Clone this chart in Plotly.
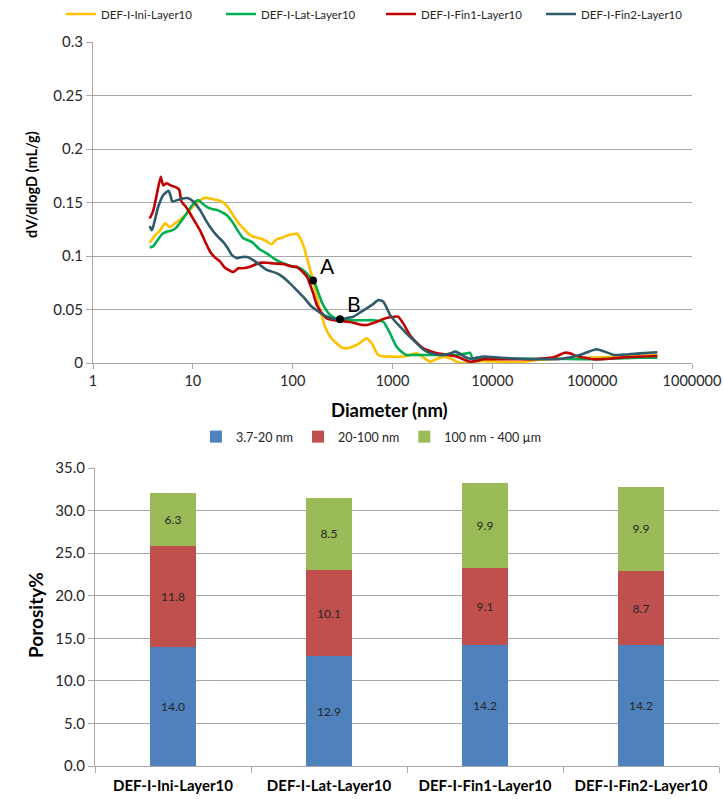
import math
import plotly.graph_objects as go

# ---------------- top chart data ----------------
ini_d = [3.7, 4.17, 4.7, 5.26, 5.9, 6.6, 7.4, 8.3, 9.36, 10.5, 11.8, 13.2, 14.5, 16, 18, 20.2, 22.7, 25.4,
         28.5, 32, 36, 40.4, 47, 54, 61.6, 69, 78, 87, 98, 110, 119, 130, 140, 150, 160, 181, 211, 240,
         275, 310, 348, 390, 438, 490, 550, 620, 680, 720, 830, 944, 1100, 1280, 1500, 1750, 2050, 2400,
         2800, 3250, 3800, 4400, 5200, 6000, 8000, 10000, 15000, 20000, 30000, 50000, 100000, 200000, 450000]
ini_v = [0.1125, 0.119, 0.124, 0.1305, 0.127, 0.1305, 0.1336, 0.138, 0.143, 0.148, 0.152, 0.1545, 0.154,
         0.153, 0.152, 0.150, 0.145, 0.138, 0.131, 0.126, 0.121, 0.118, 0.1165, 0.114, 0.111, 0.1156, 0.117,
         0.119, 0.120, 0.121, 0.1165, 0.108, 0.097, 0.087, 0.077, 0.0558, 0.034, 0.024, 0.0184, 0.0145,
         0.0137, 0.015, 0.0168, 0.020, 0.023, 0.0184, 0.011, 0.0075, 0.006, 0.006, 0.0058, 0.006, 0.0075,
         0.009, 0.005, 0.0012, 0.004, 0.006, 0.0044, 0.001, 0.0, 0.001, 0.002, 0.0015, 0.001, 0.001, 0.003,
         0.004, 0.005, 0.006, 0.0075]

lat_d = [3.7, 4.0, 4.3, 4.68, 5.0, 5.47, 6.2, 6.9, 7.7, 8.7, 9.6, 10.5, 11.4, 12.5, 13.8, 15.5, 17.4, 19.5,
         21.9, 25.4, 28.5, 32, 37.3, 40.4, 47, 55, 64, 74, 87, 101, 119, 138, 150, 167, 180, 195, 215, 237,
         265, 298, 350, 405, 500, 643, 720, 810, 870, 944, 1020, 1100, 1250, 1390, 1700, 2400, 3300, 4400,
         5500, 6000, 6400, 8000, 10000, 20000, 40000, 80000, 150000, 300000, 450000]
lat_v = [0.108, 0.109, 0.113, 0.118, 0.121, 0.1227, 0.124, 0.127, 0.133, 0.14, 0.146, 0.1507, 0.152, 0.149,
         0.146, 0.144, 0.143, 0.141, 0.138, 0.1306, 0.123, 0.1165, 0.114, 0.112, 0.106, 0.1025, 0.098,
         0.0947, 0.092, 0.090, 0.0885, 0.084, 0.080, 0.0745, 0.066, 0.0573, 0.050, 0.0449, 0.042, 0.040,
         0.0398, 0.040, 0.040, 0.040, 0.0395, 0.0386, 0.034, 0.0278, 0.021, 0.0152, 0.010, 0.0075, 0.0075,
         0.0075, 0.0075, 0.0075, 0.009, 0.0095, 0.003, 0.004, 0.004, 0.004, 0.004, 0.0035, 0.004, 0.005, 0.005]

fin1_d = [3.7, 4.0, 4.3, 4.77, 5.06, 5.47, 6.0, 6.89, 7.3, 7.7, 8.5, 9.36, 10.5, 11.8, 13.2, 14.9, 16.5, 18.7,
          20.5, 22.7, 25.4, 28.6, 32, 37.3, 47, 55, 65, 80.6, 87, 101, 110, 128, 140, 150, 162, 175, 195,
          220, 260, 298, 350, 405, 470, 550, 620, 700, 800, 944, 1140, 1280, 1500, 1750, 2040, 2400, 2790,
          3400, 4400, 6000, 7000, 8200, 13800, 25000, 41000, 53000, 60000, 70000, 103000, 150000, 205000, 450000]
fin1_v = [0.135, 0.142, 0.155, 0.174, 0.166, 0.168, 0.166, 0.164, 0.162, 0.151, 0.146, 0.140, 0.132, 0.124,
          0.114, 0.104, 0.099, 0.095, 0.090, 0.087, 0.085, 0.0885, 0.0885, 0.090, 0.0937, 0.0937, 0.093,
          0.0925, 0.0916, 0.090, 0.090, 0.0844, 0.080, 0.073, 0.064, 0.054, 0.047, 0.0417, 0.040, 0.0396,
          0.0385, 0.0377, 0.036, 0.0355, 0.037, 0.0386, 0.041, 0.0427, 0.0433, 0.037, 0.026, 0.019, 0.0137,
          0.011, 0.009, 0.008, 0.006, 0.0012, 0.002, 0.0035, 0.0035, 0.0035, 0.0053, 0.0096, 0.009, 0.0065,
          0.0035, 0.004, 0.0053, 0.0065]

fin2_d = [3.7, 3.87, 4.0, 4.5, 5.06, 5.7, 6.0, 6.2, 7.4, 8.2, 9.0, 10.1, 11.8, 13.2, 14.9, 17.4, 20.2, 22.5,
          24.5, 27.5, 31, 34.7, 37.3, 42, 47, 55, 69, 80.6, 95, 110, 130, 150, 175, 203, 240, 298, 350, 405,
          470, 550, 640, 720, 810, 880, 944, 1060, 1190, 1400, 1620, 1900, 2200, 2700, 3250, 3800, 4250,
          4700, 5150, 6000, 7000, 8200, 10000, 15000, 30000, 50000, 75000, 95000, 110000, 130000, 165000,
          220000, 300000, 450000]
fin2_v = [0.128, 0.124, 0.127, 0.146, 0.157, 0.161, 0.156, 0.151, 0.153, 0.154, 0.154, 0.151, 0.143, 0.135,
          0.127, 0.119, 0.113, 0.107, 0.101, 0.098, 0.099, 0.099, 0.098, 0.095, 0.0916, 0.087, 0.084, 0.080,
          0.074, 0.068, 0.061, 0.054, 0.049, 0.0449, 0.042, 0.0408, 0.042, 0.0433, 0.047, 0.051, 0.055,
          0.0589, 0.0573, 0.051, 0.045, 0.039, 0.034, 0.027, 0.0215, 0.015, 0.0106, 0.008, 0.0075, 0.009,
          0.0106, 0.009, 0.0065, 0.004, 0.005, 0.006, 0.0055, 0.0045, 0.0035, 0.004, 0.0075, 0.011, 0.0128,
          0.011, 0.0075, 0.008, 0.009, 0.01]

series_names = ["DEF-I-Ini-Layer10", "DEF-I-Lat-Layer10", "DEF-I-Fin1-Layer10", "DEF-I-Fin2-Layer10"]
line_colors = ["#FFC000", "#00B050", "#C00000", "#2E5B6B"]

point_labels = ["A", "B"]
point_d = [160, 298]
point_v = [0.077, 0.041]

x_tick_vals = [1, 10, 100, 1000, 10000, 100000, 1000000]
x_tick_text = ["1", "10", "100", "1000", "10000", "100000", "1000000"]

# ---------------- bottom chart data ----------------
samples = ["DEF-I-Ini-Layer10", "DEF-I-Lat-Layer10", "DEF-I-Fin1-Layer10", "DEF-I-Fin2-Layer10"]
range_names = ["3.7-20 nm", "20-100 nm", "100 nm - 400 µm"]
small_pores = [14.0, 12.9, 14.2, 14.2]
mid_pores = [11.8, 10.1, 9.1, 8.7]
large_pores = [6.3, 8.5, 9.9, 9.9]
bar_colors = ["#4F81BD", "#C0504D", "#9BBB59"]

FONT = "Lato, 'Liberation Sans', sans-serif"
TXT = "#262626"
GRID = "#A8A8A8"

fig = go.Figure()

for d, v, name, col in zip([ini_d, lat_d, fin1_d, fin2_d], [ini_v, lat_v, fin1_v, fin2_v],
                           series_names, line_colors):
    fig.add_trace(go.Scatter(x=d, y=v, mode="lines", name=name,
                             line=dict(color=col, width=2.6, shape="spline", smoothing=0.5),
                             xaxis="x", yaxis="y", legend="legend"))

fig.add_trace(go.Scatter(x=point_d, y=point_v, mode="markers", showlegend=False,
                         marker=dict(color="black", size=8), xaxis="x", yaxis="y"))

annots = []
for lab, d, v in zip(point_labels, point_d, point_v):
    annots.append(dict(x=math.log10(d), y=v, xref="x", yref="y", text=lab,
                       showarrow=False, xanchor="left", yanchor="bottom", xshift=5, yshift=1,
                       font=dict(size=21, color="black", family=FONT)))

for vals, name, col in zip([small_pores, mid_pores, large_pores], range_names, bar_colors):
    fig.add_trace(go.Bar(x=samples, y=vals, name=name, marker=dict(color=col, line=dict(width=0)),
                         text=[f"{x:.1f}" for x in vals], textposition="inside",
                         insidetextanchor="middle", textangle=0,
                         textfont=dict(size=12, color=TXT, family=FONT),
                         xaxis="x2", yaxis="y2", legend="legend2"))

W, H = 724, 799
def px_x(p): return p / W
def px_y(p): return 1 - p / H

annots += [
    dict(text="<b>Diameter (nm)</b>", x=px_x(389), y=px_y(410), xref="paper", yref="paper",
         xanchor="center", yanchor="middle",
         showarrow=False, font=dict(size=18.5, color="black", family=FONT)),
    dict(text="<b>dV/dlogD (mL/g)</b>", x=px_x(31), y=px_y(185), xref="paper", yref="paper",
         xanchor="center", yanchor="middle",
         showarrow=False, textangle=-90, font=dict(size=14.5, color="black", family=FONT)),
    dict(text="<b>Porosity%</b>", x=px_x(35), y=px_y(615), xref="paper", yref="paper",
         xanchor="center", yanchor="middle",
         showarrow=False, textangle=-90, font=dict(size=19, color="black", family=FONT)),
]

fig.update_layout(
    width=W, height=H, margin=dict(l=0, r=0, t=0, b=0, autoexpand=False),
    paper_bgcolor="white", plot_bgcolor="white",
    font=dict(family=FONT, size=13, color=TXT),
    barmode="stack", bargap=0.705,
    xaxis=dict(type="log", range=[0, 6], domain=[px_x(93), px_x(692)], anchor="y", automargin=False,
               tickvals=x_tick_vals, ticktext=x_tick_text, ticks="outside", ticklen=5,
               tickcolor=GRID, showline=True, linecolor=GRID, linewidth=1, showgrid=False,
               zeroline=False, tickfont=dict(size=14.5, color=TXT)),
    yaxis=dict(range=[0, 0.3], dtick=0.05, domain=[px_y(363), px_y(42)], anchor="x", automargin=False,
               showline=True, linecolor=GRID, linewidth=1, showgrid=True, gridcolor=GRID,
               ticks="outside", ticklen=6, tickcolor=GRID, zeroline=False,
               tickfont=dict(size=15, color=TXT)),
    xaxis2=dict(domain=[px_x(95), px_x(719)], anchor="y2", type="category", automargin=False,
                showline=True, linecolor=GRID, linewidth=1, ticks="outside", ticklen=6,
                tickcolor=GRID, tickson="boundaries", showgrid=False, ticklabelstandoff=6,
                tickfont=dict(size=15, color="black", family=FONT, weight="bold")),
    yaxis2=dict(range=[0, 35], dtick=5, tickformat=".1f", domain=[px_y(766), px_y(468)],
                anchor="x2", automargin=False, showline=True, linecolor=GRID, linewidth=1, showgrid=True,
                gridcolor=GRID, ticks="outside", ticklen=6, tickcolor=GRID, zeroline=False,
                tickfont=dict(size=15, color=TXT)),
    legend=dict(orientation="h", x=px_x(61), xanchor="left", y=px_y(14), yanchor="middle",
                font=dict(size=11.5, color=TXT), itemwidth=30, entrywidth=115,
                bgcolor="rgba(0,0,0,0)", traceorder="normal"),
    legend2=dict(orientation="h", x=0.513, xanchor="center", y=px_y(437), yanchor="middle",
                 font=dict(size=12.5, color=TXT), bgcolor="rgba(0,0,0,0)", traceorder="normal"),
    annotations=annots,
)

fig.write_html("out.html", config={"displayModeBar": False},
               post_script="document.body.style.margin='0';document.body.style.padding='0';")
